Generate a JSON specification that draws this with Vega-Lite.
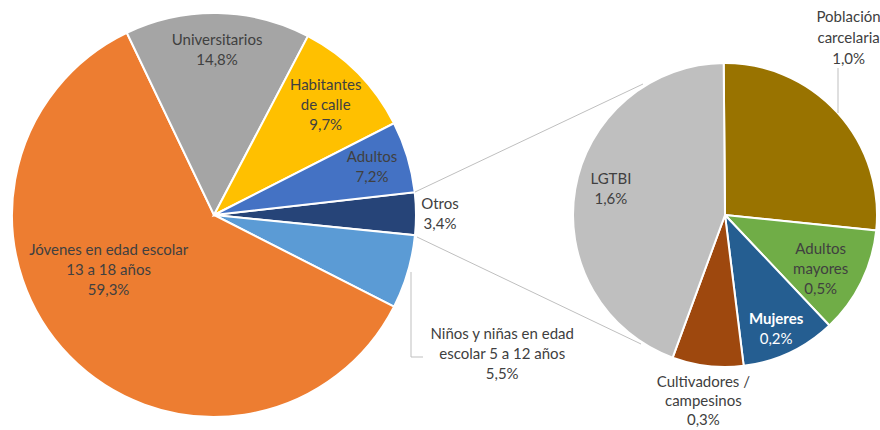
{
  "$schema": "https://vega.github.io/schema/vega-lite/v6.json",
  "width": 880,
  "height": 430,
  "padding": 0,
  "autosize": {"type": "none"},
  "background": "white",
  "config": {"view": {"stroke": null}},
  "datasets": {
    "main": [
      {"group": "Otros", "share": 3.4, "ord": 1, "label": "Otros\n3,4%"},
      {"group": "Niños y niñas en edad escolar 5 a 12 años", "share": 5.9, "ord": 2, "label": "Niños y niñas en edad\nescolar 5 a 12 años\n5,5%"},
      {"group": "Jóvenes en edad escolar 13 a 18 años", "share": 60.4, "ord": 3, "label": "Jóvenes en edad escolar\n13 a 18 años\n59,3%"},
      {"group": "Universitarios", "share": 14.8, "ord": 4, "label": "Universitarios\n14,8%"},
      {"group": "Habitantes de calle", "share": 9.8, "ord": 5, "label": "Habitantes\nde calle\n9,7%"},
      {"group": "Adultos", "share": 5.7, "ord": 6, "label": "Adultos\n7,2%"}
    ],
    "sub": [
      {"group": "Población carcelaria", "share": 0.91, "ord": 1, "label": "Población\ncarcelaria\n1,0%"},
      {"group": "Adultos mayores", "share": 0.385, "ord": 2, "label": "Adultos\nmayores\n0,5%"},
      {"group": "Mujeres", "share": 0.343, "ord": 3, "label": "Mujeres\n0,2%", "name": "Mujeres", "pct": "0,2%"},
      {"group": "Cultivadores / campesinos", "share": 0.257, "ord": 4, "label": "Cultivadores /\ncampesinos\n0,3%"},
      {"group": "LGTBI", "share": 1.505, "ord": 5, "label": "LGTBI\n1,6%"}
    ]
  },
  "resolve": {"scale": {"theta": "independent", "color": "independent"}},
  "layer": [
    {
      "data": {"name": "main"},
      "encoding": {
        "x": {"datum": 214, "type": "quantitative", "scale": {"domain": [0, 880], "nice": false, "zero": false}, "axis": null},
        "y": {"datum": 215, "type": "quantitative", "scale": {"domain": [0, 430], "nice": false, "zero": false, "reverse": true}, "axis": null},
        "theta": {"field": "share", "type": "quantitative", "stack": true, "scale": {"range": [1.4574, 7.7406]}},
        "order": {"field": "ord", "type": "quantitative"}
      },
      "layer": [
        {
          "mark": {"type": "arc", "outerRadius": 202, "stroke": "white", "strokeWidth": 2},
          "encoding": {
            "color": {
              "field": "group", "type": "nominal", "legend": null,
              "scale": {
                "domain": ["Otros", "Niños y niñas en edad escolar 5 a 12 años", "Jóvenes en edad escolar 13 a 18 años", "Universitarios", "Habitantes de calle", "Adultos"],
                "range": ["#264478", "#5B9BD5", "#ED7D31", "#A5A5A5", "#FFC000", "#4472C4"]
              }
            }
          }
        },
        {
          "mark": {"type": "text", "radius": 165, "dy": -10, "font": "Lato", "fontSize": 15, "lineHeight": 20, "lineBreak": "\n", "color": "#404040", "align": "center", "baseline": "middle"},
          "encoding": {
            "text": {"condition": {"test": "datum.ord === 4 || datum.ord === 6", "field": "label", "type": "nominal"}, "value": ""}
          }
        },
        {
          "mark": {"type": "text", "radius": 157, "dy": -20, "font": "Lato", "fontSize": 15, "lineHeight": 20, "lineBreak": "\n", "color": "#404040", "align": "center", "baseline": "middle"},
          "encoding": {
            "text": {"condition": {"test": "datum.ord === 5", "field": "label", "type": "nominal"}, "value": ""}
          }
        },
        {
          "mark": {"type": "text", "radius": 119, "thetaOffset": 0.29, "dy": -20, "font": "Lato", "fontSize": 15, "lineHeight": 20, "lineBreak": "\n", "color": "#404040", "align": "center", "baseline": "middle"},
          "encoding": {
            "text": {"condition": {"test": "datum.ord === 3", "field": "label", "type": "nominal"}, "value": ""}
          }
        },
        {
          "mark": {"type": "text", "radius": 226, "dy": -10, "font": "Lato", "fontSize": 15, "lineHeight": 20, "lineBreak": "\n", "color": "#404040", "align": "center", "baseline": "middle"},
          "encoding": {
            "text": {"condition": {"test": "datum.ord === 1", "field": "label", "type": "nominal"}, "value": ""}
          }
        },
        {
          "mark": {"type": "text", "radius": 320, "thetaOffset": 0.164, "dy": -20, "font": "Lato", "fontSize": 15, "lineHeight": 20, "lineBreak": "\n", "color": "#404040", "align": "center", "baseline": "middle"},
          "encoding": {
            "text": {"condition": {"test": "datum.ord === 2", "field": "label", "type": "nominal"}, "value": ""}
          }
        }
      ]
    },
    {
      "data": {"name": "sub"},
      "encoding": {
        "x": {"datum": 725, "type": "quantitative", "scale": {"domain": [0, 880], "nice": false, "zero": false}, "axis": null},
        "y": {"datum": 215, "type": "quantitative", "scale": {"domain": [0, 430], "nice": false, "zero": false, "reverse": true}, "axis": null},
        "theta": {"field": "share", "type": "quantitative", "stack": true, "scale": {"range": [-0.0087, 6.2745]}},
        "order": {"field": "ord", "type": "quantitative"}
      },
      "layer": [
        {
          "mark": {"type": "arc", "outerRadius": 152, "stroke": "white", "strokeWidth": 2},
          "encoding": {
            "color": {
              "field": "group", "type": "nominal", "legend": null,
              "scale": {
                "domain": ["Población carcelaria", "Adultos mayores", "Mujeres", "Cultivadores / campesinos", "LGTBI"],
                "range": ["#997300", "#70AD47", "#255E91", "#9E480E", "#BFBFBF"]
              }
            }
          }
        },
        {
          "mark": {"type": "text", "radius": 117, "thetaOffset": 0.052, "dy": -10, "font": "Lato", "fontSize": 15, "lineHeight": 20, "lineBreak": "\n", "color": "#404040", "align": "center", "baseline": "middle"},
          "encoding": {
            "text": {"condition": {"test": "datum.ord === 5", "field": "label", "type": "nominal"}, "value": ""}
          }
        },
        {
          "mark": {"type": "text", "radius": 110, "thetaOffset": 0.058, "dy": -20, "font": "Lato", "fontSize": 15, "lineHeight": 20, "lineBreak": "\n", "color": "#404040", "align": "center", "baseline": "middle"},
          "encoding": {
            "text": {"condition": {"test": "datum.ord === 2", "field": "label", "type": "nominal"}, "value": ""}
          }
        },
        {
          "mark": {"type": "text", "radius": 120, "dy": -5, "font": "Lato", "fontSize": 15, "fontWeight": "bold", "color": "white", "align": "center", "baseline": "middle"},
          "encoding": {
            "text": {"condition": {"test": "datum.ord === 3", "field": "name", "type": "nominal"}, "value": ""}
          }
        },
        {
          "mark": {"type": "text", "radius": 120, "dy": 15, "font": "Lato", "fontSize": 15, "color": "white", "align": "center", "baseline": "middle"},
          "encoding": {
            "text": {"condition": {"test": "datum.ord === 3", "field": "pct", "type": "nominal"}, "value": ""}
          }
        },
        {
          "mark": {"type": "text", "radius": 190, "dy": -22, "font": "Lato", "fontSize": 15, "lineHeight": 19, "lineBreak": "\n", "color": "#404040", "align": "center", "baseline": "middle"},
          "encoding": {
            "text": {"condition": {"test": "datum.ord === 4", "field": "label", "type": "nominal"}, "value": ""}
          }
        },
        {
          "mark": {"type": "text", "radius": 216, "thetaOffset": -0.223, "dy": -21, "font": "Lato", "fontSize": 15, "lineHeight": 21, "lineBreak": "\n", "color": "#404040", "align": "center", "baseline": "middle"},
          "encoding": {
            "text": {"condition": {"test": "datum.ord === 1", "field": "label", "type": "nominal"}, "value": ""}
          }
        }
      ]
    },
    {
      "data": {"values": [{}]},
      "mark": {"type": "rule", "color": "#BFBFBF", "strokeWidth": 1},
      "encoding": {
        "x": {"datum": 415, "type": "quantitative", "scale": {"domain": [0, 880], "nice": false, "zero": false}, "axis": null},
        "y": {"datum": 192, "type": "quantitative", "scale": {"domain": [0, 430], "nice": false, "zero": false, "reverse": true}, "axis": null},
        "x2": {"datum": 643},
        "y2": {"datum": 84}
      }
    },
    {
      "data": {"values": [{}]},
      "mark": {"type": "rule", "color": "#BFBFBF", "strokeWidth": 1},
      "encoding": {
        "x": {"datum": 417, "type": "quantitative", "scale": {"domain": [0, 880], "nice": false, "zero": false}, "axis": null},
        "y": {"datum": 237, "type": "quantitative", "scale": {"domain": [0, 430], "nice": false, "zero": false, "reverse": true}, "axis": null},
        "x2": {"datum": 641},
        "y2": {"datum": 344}
      }
    },
    {
      "data": {"values": [{}]},
      "mark": {"type": "rule", "color": "#BFBFBF", "strokeWidth": 1},
      "encoding": {
        "x": {"datum": 411, "type": "quantitative", "scale": {"domain": [0, 880], "nice": false, "zero": false}, "axis": null},
        "y": {"datum": 272, "type": "quantitative", "scale": {"domain": [0, 430], "nice": false, "zero": false, "reverse": true}, "axis": null},
        "x2": {"datum": 411},
        "y2": {"datum": 357}
      }
    },
    {
      "data": {"values": [{}]},
      "mark": {"type": "rule", "color": "#BFBFBF", "strokeWidth": 1},
      "encoding": {
        "x": {"datum": 411, "type": "quantitative", "scale": {"domain": [0, 880], "nice": false, "zero": false}, "axis": null},
        "y": {"datum": 357, "type": "quantitative", "scale": {"domain": [0, 430], "nice": false, "zero": false, "reverse": true}, "axis": null},
        "x2": {"datum": 423},
        "y2": {"datum": 357}
      }
    },
    {
      "data": {"values": [{}]},
      "mark": {"type": "rule", "color": "#BFBFBF", "strokeWidth": 1},
      "encoding": {
        "x": {"datum": 838, "type": "quantitative", "scale": {"domain": [0, 880], "nice": false, "zero": false}, "axis": null},
        "y": {"datum": 68, "type": "quantitative", "scale": {"domain": [0, 430], "nice": false, "zero": false, "reverse": true}, "axis": null},
        "x2": {"datum": 838},
        "y2": {"datum": 113}
      }
    }
  ]
}
